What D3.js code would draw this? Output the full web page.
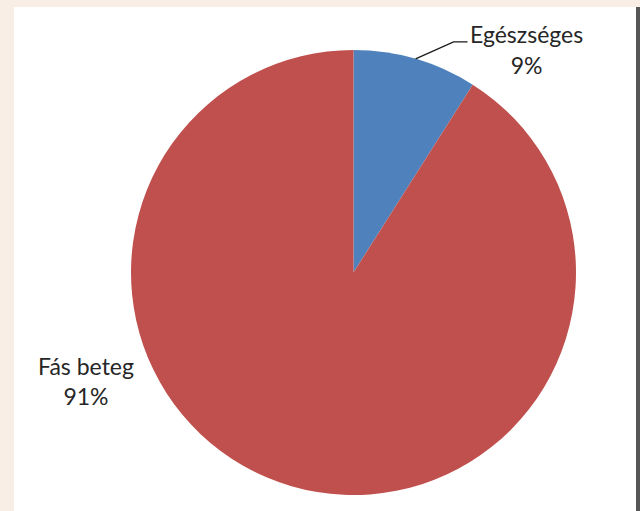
<!DOCTYPE html>
<html>
<head>
<meta charset="utf-8">
<script src="https://cdn.jsdelivr.net/npm/d3@7"></script>
<style>
  body { margin: 0; background: #f9eee5; }
  svg { display: block; }
  text { font-family: Lato, "Open Sans", sans-serif; fill: #262626; }
</style>
</head>
<body>
<svg id="drawing_region"></svg>
<script>
const categories = ["Egészséges", "Fás beteg"];
const values = [9, 91];
const percentLabels = ["9%", "91%"];
const colors = ["#4f81bd", "#c0504d"];

const config = {
    width: 640,
    height: 511,
    cx: 353.5,
    cy: 272.5,
    radius: 222.5
};

const svg = d3.select('#drawing_region')
    .attr('width', config.width)
    .attr('height', config.height);

// white chart area and dark edge on the right
svg.append('rect')
    .attr('x', 14).attr('y', 7)
    .attr('width', 622).attr('height', config.height - 7)
    .attr('fill', '#ffffff');
svg.append('rect')
    .attr('x', 636).attr('y', 7)
    .attr('width', 4).attr('height', config.height - 7)
    .attr('fill', '#565656');

const pie = d3.pie().sort(null).value(d => d);
const arcs = pie(values);
const arc = d3.arc().innerRadius(0).outerRadius(config.radius);

const chart = svg.append('g')
    .attr('transform', `translate(${config.cx}, ${config.cy})`);

chart.selectAll('path')
    .data(arcs)
    .enter()
    .append('path')
    .attr('d', arc)
    .attr('fill', (d, i) => colors[i]);

// label for the small slice, with leader line
const a0 = arcs[0];
const mid = (a0.startAngle + a0.endAngle) / 2;
const p0 = [Math.sin(mid) * config.radius, -Math.cos(mid) * config.radius];
const p1 = [p0[0] + 38, p0[1] - 17];
const p2 = [p1[0] + 14, p1[1]];

chart.append('polyline')
    .attr('points', [p0, p1, p2].map(p => p.join(',')).join(' '))
    .attr('fill', 'none')
    .attr('stroke', '#1a1a1a')
    .attr('stroke-width', 1.3);

const fontSize = 23;
const lab0 = chart.append('text')
    .attr('font-size', fontSize)
    .attr('text-anchor', 'middle');
lab0.append('tspan')
    .attr('x', p2[0] + 59).attr('y', p2[1] + 1)
    .text(categories[0]);
lab0.append('tspan')
    .attr('x', p2[0] + 59).attr('y', p2[1] + 32)
    .text(percentLabels[0]);

// label for the large slice, placed to the left
const lx = -config.radius - 45;
const ly = 102.5;
const lab1 = chart.append('text')
    .attr('font-size', fontSize)
    .attr('text-anchor', 'middle');
lab1.append('tspan')
    .attr('x', lx).attr('y', ly)
    .text(categories[1]);
lab1.append('tspan')
    .attr('x', lx).attr('y', ly + 30)
    .text(percentLabels[1]);
</script>
</body>
</html>
